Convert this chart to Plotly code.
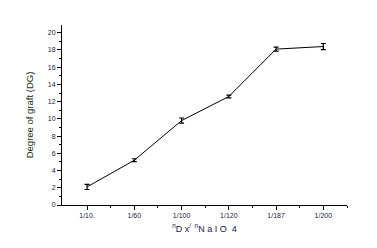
import plotly.graph_objects as go

categories = ["1/10.", "1/60", "1/100", "1/120", "1/187", "1/200"]
positions = [1, 2, 3, 4, 5, 6]
dg_values = [2.1, 5.2, 9.8, 12.6, 18.1, 18.4]
dg_errors = [0.3, 0.17, 0.3, 0.15, 0.23, 0.35]
y_ticks = [0, 2, 4, 6, 8, 10, 12, 14, 16, 18, 20]

fig = go.Figure()
fig.add_trace(go.Scatter(
    x=positions, y=dg_values, mode="lines",
    line=dict(color="black", width=1),
    error_y=dict(type="data", array=dg_errors, visible=True,
                 color="black", thickness=1.2, width=2.5),
    showlegend=False,
))

font_family = "Liberation Sans, Arial, sans-serif"
fig.update_layout(
    width=377, height=248,
    margin=dict(l=62, r=30, t=25, b=43),
    paper_bgcolor="white", plot_bgcolor="white",
    font=dict(family=font_family, size=7, color="black"),
    xaxis=dict(
        range=[0.47, 6.5], tickmode="array", tickvals=positions, ticktext=categories,
        showgrid=False, zeroline=False, showline=True, linecolor="black", linewidth=1,
        ticks="outside", ticklen=4, tickwidth=1, tickcolor="black",
        tickfont=dict(size=7, color="#202040"),
        minor=dict(tickmode="array", tickvals=[1.5, 2.5, 3.5, 4.5, 5.5, 6.5],
                   ticks="outside", ticklen=2, tickwidth=1, tickcolor="black"),
        title=dict(text="<sup>n</sup>D x<sup>/  n</sup>N a I O  4",
                   font=dict(size=9, color="#202040"), standoff=7),
    ),
    yaxis=dict(
        range=[0, 20.9], tickmode="array", tickvals=y_ticks,
        showgrid=False, zeroline=False, showline=True, linecolor="black", linewidth=1,
        ticks="outside", ticklen=4, tickwidth=1, tickcolor="black",
        tickfont=dict(size=7, color="#202040"),
        minor=dict(dtick=1, tick0=0, ticks="outside", ticklen=2, tickwidth=1, tickcolor="black"),
        title=dict(text="Degree of graft (DG)", font=dict(size=9.5, color="#1a2a1a"), standoff=12),
    ),
)

fig.write_html("out.html")
